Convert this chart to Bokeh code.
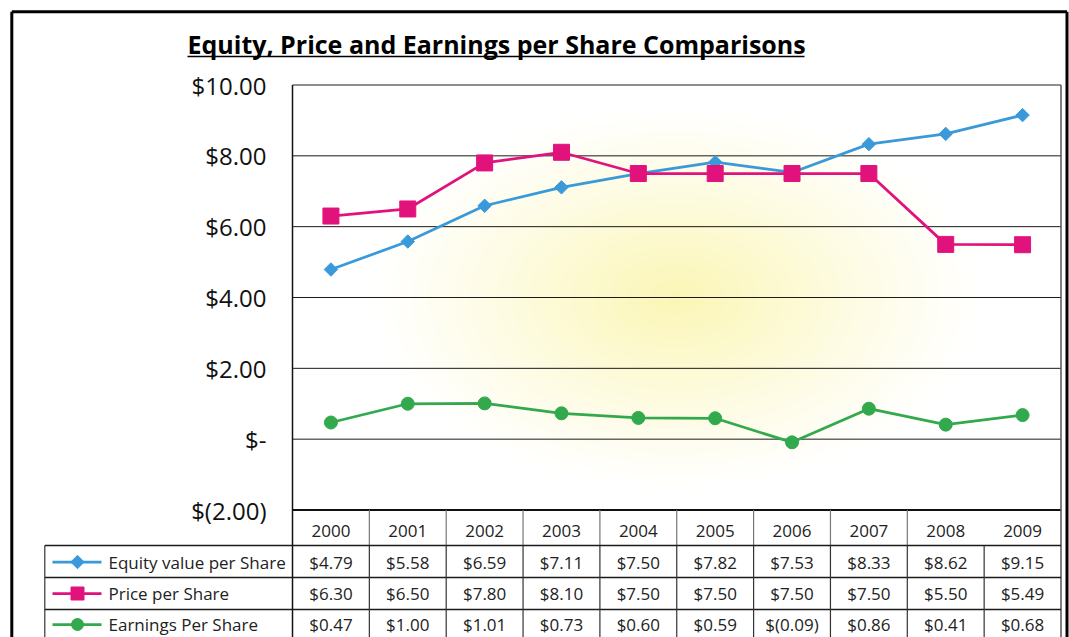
import numpy as np
from bokeh.plotting import figure
from bokeh.models import Range1d
from bokeh.embed import file_html
from bokeh.resources import INLINE
from bokeh.core.properties import value

# ---------------- data ----------------
title = "Equity, Price and Earnings per Share Comparisons"
years = ["2000", "2001", "2002", "2003", "2004", "2005", "2006", "2007", "2008", "2009"]
equity = [4.79, 5.58, 6.59, 7.11, 7.50, 7.82, 7.53, 8.33, 8.62, 9.15]
price = [6.30, 6.50, 7.80, 8.10, 7.50, 7.50, 7.50, 7.50, 5.50, 5.49]
earnings = [0.47, 1.00, 1.01, 0.73, 0.60, 0.59, -0.09, 0.86, 0.41, 0.68]
series_names = ["Equity value per Share", "Price per Share", "Earnings Per Share"]
y_ticks = [10, 8, 6, 4, 2, 0, -2]
y_tick_labels = ["$10.00", "$8.00", "$6.00", "$4.00", "$2.00", "$-", "$(2.00)"]

# ---------------- styles / layout ----------------
BLUE = "#3a9ad9"
PINK = "#e2127c"
GREEN = "#32a94c"
FONT = "Open Sans"
TFONT = "Open Sans"

W, H = 1069, 637
OX, OY = 0, 0
PL, PR, PT, PB = 292.0, 1060.5, 84.5, 509.5   # plot area in page px
YMIN, YMAX = -2, 10
NCOL = len(years)
sx = (PR - PL) / NCOL
sy = (PB - PT) / (YMAX - YMIN)


def dx(px):
    return (px - PL) / sx


def dy(py):
    return YMIN + (PB - py) / sy


p = figure(width=W, height=H, output_backend="svg", toolbar_location=None,
           x_axis_type=None, y_axis_type=None, min_border=0,
           x_range=Range1d(dx(OX), dx(OX + W)), y_range=Range1d(dy(OY + H), dy(OY)))
p.outline_line_color = None
p.grid.visible = False
p.background_fill_color = "white"
p.border_fill_color = "white"

# radial yellow glow in plot area (decoration)
gw, gh = 384, 212
gx = np.linspace(-1, 1, gw)
gy = np.linspace(-1, 1, gh)
GX, GY = np.meshgrid(gx, gy)
rx = 310.0 / ((PR - PL) / 2)
ry = 195.0 / ((PB - PT) / 2)
r = np.sqrt((GX / rx) ** 2 + (GY / ry) ** 2)
alpha = np.clip(1 - r, 0, 1) ** 1.1 * 0.40
img = np.zeros((gh, gw), dtype=np.uint32)
view = img.view(dtype=np.uint8).reshape((gh, gw, 4))
view[:, :, 0] = 245
view[:, :, 1] = 232
view[:, :, 2] = 70
view[:, :, 3] = (alpha * 255).astype(np.uint8)
p.image_rgba(image=[img], x=0, y=YMIN, dw=NCOL, dh=YMAX - YMIN)

# gridlines
inner = [t for t in y_ticks if YMIN < t < YMAX]
p.segment(x0=[0] * len(inner), x1=[NCOL] * len(inner), y0=inner, y1=inner,
          line_color="#1a1a1a", line_width=1)

# plot area border
p.segment(x0=[0], x1=[NCOL], y0=[YMAX], y1=[YMAX], line_color="#6a6a6a", line_width=1.5)
p.segment(x0=[0], x1=[NCOL], y0=[YMIN], y1=[YMIN], line_color="#111111", line_width=2)
bottom = dy(OY + H + 20)
p.segment(x0=[0], x1=[0], y0=[YMAX], y1=[bottom], line_color="#111111", line_width=1.5)
p.segment(x0=[NCOL], x1=[NCOL], y0=[YMAX], y1=[bottom], line_color="#555555", line_width=1.5)

# y tick labels
p.text(x=[dx(266)] * len(y_ticks), y=y_ticks, text=y_tick_labels,
       text_font=value(FONT), text_font_size="24px", text_color="#111111",
       text_align="right", text_baseline="middle")

# series
xs = [i + 0.5 for i in range(NCOL)]
p.line(xs, equity, line_color=BLUE, line_width=2.75)
p.scatter(xs, equity, marker="square", angle=np.pi / 4, size=9.5,
          fill_color=BLUE, line_color=BLUE)
p.line(xs, price, line_color=PINK, line_width=2.75)
p.scatter(xs, price, marker="square", size=16, fill_color=PINK, line_color=PINK)
p.line(xs, earnings, line_color=GREEN, line_width=2.75)
p.scatter(xs, earnings, marker="circle", size=13, fill_color=GREEN, line_color=GREEN)

# title
p.text(x=[dx(187)], y=[dy(43)], text=[title], text_font=value(TFONT),
       text_font_style="bold", text_font_size="25px", text_color="#000000",
       text_align="left", text_baseline="middle")
p.segment(x0=[dx(187)], x1=[dx(804)], y0=[dy(56)], y1=[dy(56)],
          line_color="#000000", line_width=1.6)

# ---------------- data table ----------------
row_lines = [545.0, 577.0, 609.0]
row_centers = [561.5, 593.0, 624.0]
LEG_L = 44.3
# header dividers
hx = list(range(1, NCOL - 1))
p.segment(x0=hx, x1=hx, y0=[YMIN] * len(hx), y1=[dy(row_lines[0])] * len(hx),
          line_color="#777777", line_width=1.2)
p.text(x=xs, y=[dy(530)] * NCOL, text=years, text_font=value(FONT),
       text_font_size="17px", text_color="#222222", text_align="center",
       text_baseline="middle")
# row lines
p.segment(x0=[dx(LEG_L)] * 3, x1=[NCOL] * 3, y0=[dy(v) for v in row_lines],
          y1=[dy(v) for v in row_lines], line_color="#1a1a1a", line_width=1.3)
# verticals in body
bx = list(range(1, NCOL))
p.segment(x0=bx, x1=bx, y0=[dy(row_lines[0])] * len(bx), y1=[bottom] * len(bx),
          line_color="#333333", line_width=1.2)
p.segment(x0=[dx(LEG_L)], x1=[dx(LEG_L)], y0=[dy(row_lines[0])], y1=[bottom],
          line_color="#333333", line_width=1.2)


def fmt(v):
    return "${:.2f}".format(v) if v >= 0 else "$({:.2f})".format(-v)


colors = [BLUE, PINK, GREEN]
markers = [("square", 9.5, np.pi / 4), ("square", 13, 0), ("circle", 12, 0)]
for k, vals in enumerate([equity, price, earnings]):
    yc = dy(row_centers[k])
    p.text(x=xs, y=[yc] * NCOL, text=[fmt(v) for v in vals], text_font=value(FONT),
           text_font_size="17px", text_color="#222222", text_align="center",
           text_baseline="middle")
    p.line([dx(52), dx(101)], [yc, yc], line_color=colors[k], line_width=2.75)
    m, s, a = markers[k]
    p.scatter([dx(77)], [yc], marker=m, size=s, angle=a,
              fill_color=colors[k], line_color=colors[k])
    p.text(x=[dx(108)], y=[yc], text=[series_names[k]], text_font=value(FONT),
           text_font_size="17px", text_color="#222222", text_align="left",
           text_baseline="middle")

# outer frame
p.segment(x0=[dx(11.3)], x1=[dx(1066.5)], y0=[dy(11.3)], y1=[dy(11.3)],
          line_color="#000000", line_width=3)
p.segment(x0=[dx(11.3), dx(1066.5)], x1=[dx(11.3), dx(1066.5)],
          y0=[dy(11.3)] * 2, y1=[bottom] * 2, line_color="#000000", line_width=3)

open("out.html", "w").write(file_html(p, INLINE))
